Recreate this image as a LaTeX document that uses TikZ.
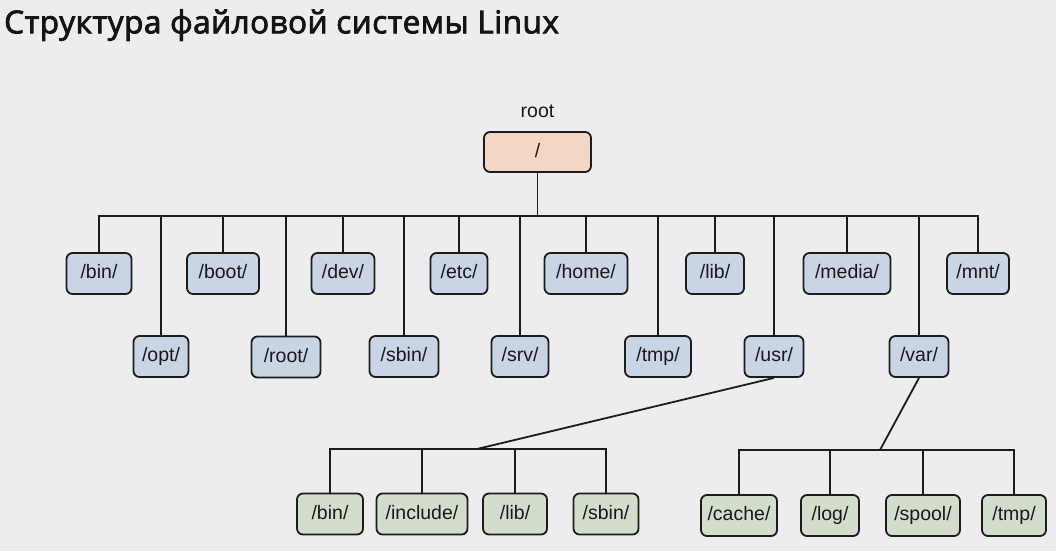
\documentclass[tikz,border=0pt]{standalone}
\usepackage{fontspec}
\setmainfont{Liberation Sans}
\newfontfamily\titlefont[FakeBold=2.6,LetterSpace=1.6]{Open Sans}
\definecolor{bgc}{HTML}{EDEDEF}
\definecolor{bluef}{HTML}{C9D4E5}
\definecolor{greenf}{HTML}{D3DDCB}
\definecolor{peachf}{HTML}{F3D7C4}
\definecolor{linec}{HTML}{1C1C1C}
\begin{document}
\begin{tikzpicture}[x=1pt,y=-1pt,
  box/.style={draw=linec,line width=1.8pt,rounded corners=6pt,minimum height=41pt,inner sep=0pt,
    text height=14pt,text depth=4pt,
    font=\fontsize{19.5}{20}\selectfont,text=black!90},
  bbox/.style={box,fill=bluef},
  gbox/.style={box,fill=greenf},
  pbox/.style={box,fill=peachf},
  conn/.style={draw=linec,line width=1.8pt}]
\fill[bgc] (0,0) rectangle (1056,551);
\useasboundingbox (0,0) rectangle (1056,551);
\node[anchor=base west,inner sep=0pt,font=\titlefont\fontsize{31.5}{32}\selectfont,text=black!92] (title) at (4,33.3) {Структура файловой системы Linux};
% root
\node[pbox,minimum width=107pt,minimum height=40pt] (rt) at (537.5,152) {/};
\node[font=\fontsize{19.5}{20}\selectfont,text=black!90,anchor=base] (rootlbl) at (537.5,117) {root};
% top row
\node[bbox,minimum width=65pt] (bin) at (99,273.5) {/bin/};
\node[bbox,minimum width=72pt] (boot) at (223,273.5) {/boot/};
\node[bbox,minimum width=63pt] (dev) at (343,273.5) {/dev/};
\node[bbox,minimum width=57pt] (etc) at (459,273.5) {/etc/};
\node[bbox,minimum width=83pt] (home) at (586,273.5) {/home/};
\node[bbox,minimum width=58pt] (lib) at (715,273.5) {/lib/};
\node[bbox,minimum width=87pt] (media) at (847,273.5) {/media/};
\node[bbox,minimum width=62pt] (mnt) at (978,273.5) {/mnt/};
% second row
\node[bbox,minimum width=55pt] (opt) at (161,356.5) {/opt/};
\node[bbox,minimum width=69pt] (rootd) at (286,357) {/root/};
\node[bbox,minimum width=69pt] (sbin) at (404,356.5) {/sbin/};
\node[bbox,minimum width=57pt] (srv) at (520,356.5) {/srv/};
\node[bbox,minimum width=66pt] (tmp) at (658,356.5) {/tmp/};
\node[bbox,minimum width=59pt] (usr) at (774,356.5) {/usr/};
\node[bbox,minimum width=59pt] (var) at (919,356.5) {/var/};
% usr children
\node[gbox,minimum width=66pt] (ubin) at (330,514) {/bin/};
\node[gbox,minimum width=91pt] (uinc) at (422,514) {/include/};
\node[gbox,minimum width=64pt] (ulib) at (515,514) {/lib/};
\node[gbox,minimum width=65pt] (usbin) at (606,514) {/sbin/};
% var children
\node[gbox,minimum width=76pt] (cache) at (739,515.5) {/cache/};
\node[gbox,minimum width=58pt] (log) at (830,515.5) {/log/};
\node[gbox,minimum width=74pt] (spool) at (923,515.5) {/spool/};
\node[gbox,minimum width=64pt] (vtmp) at (1014,515.5) {/tmp/};
% buses
\coordinate (bus) at (537.5,216);
\coordinate (ubus) at (477,449);
\coordinate (vbus) at (880,450);
\draw[conn] (rt.south) -- (bus);
\draw[conn,line cap=rect] (bin.north |- bus) -- (mnt.north |- bus);
\foreach \n in {bin,boot,dev,etc,home,lib,media,mnt,opt,rootd,sbin,srv,tmp,usr,var}
  \draw[conn] (\n.north) -- (\n.north |- bus);
\draw[conn] (usr.south) -- (ubus);
\draw[conn,line cap=rect] (ubin.north |- ubus) -- (usbin.north |- ubus);
\foreach \n in {ubin,uinc,ulib,usbin}
  \draw[conn] (\n.north) -- (\n.north |- ubus);
\draw[conn] (var.south) -- (vbus);
\draw[conn,line cap=rect] (cache.north |- vbus) -- (vtmp.north |- vbus);
\foreach \n in {cache,log,spool,vtmp}
  \draw[conn] (\n.north) -- (\n.north |- vbus);
\end{tikzpicture}
\end{document}
